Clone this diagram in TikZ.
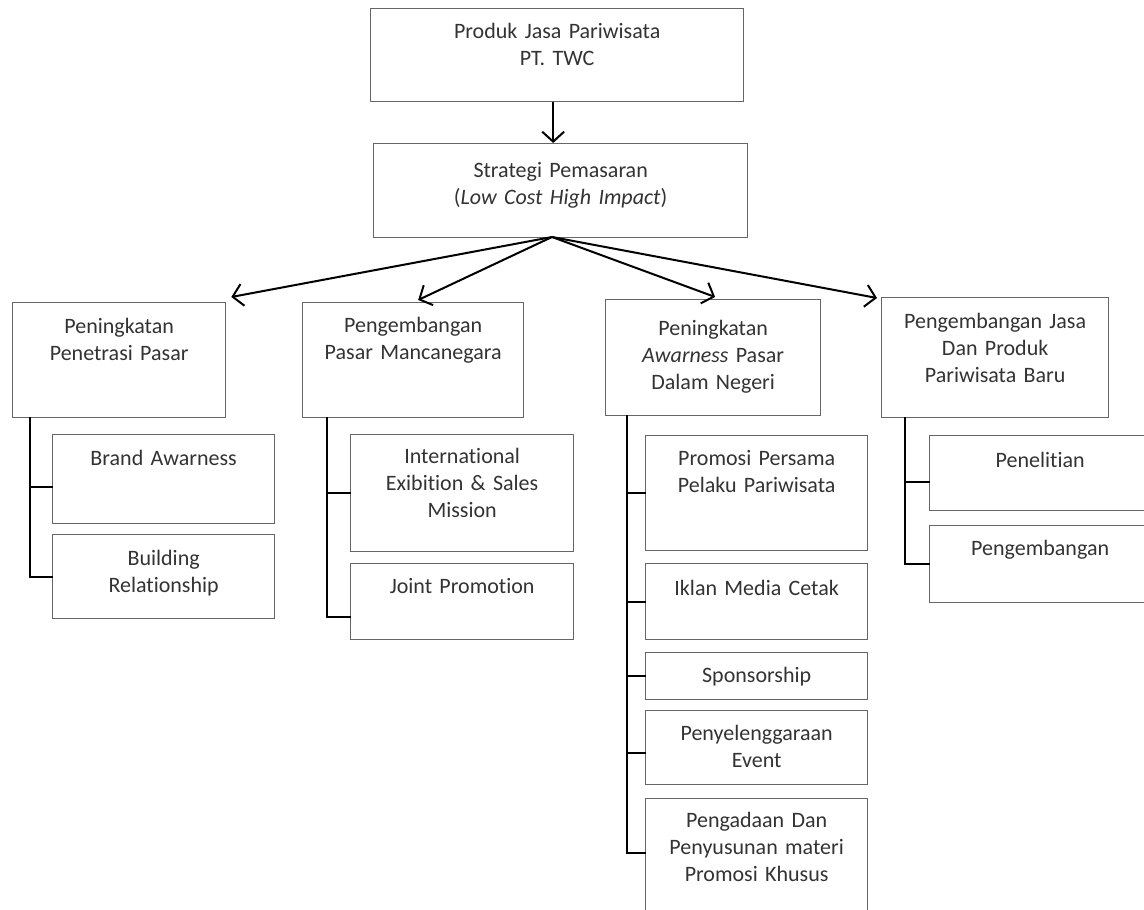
\documentclass[tikz,border=0pt]{standalone}
\usepackage{fontspec}
\setmainfont{Carlito}[Ligatures={NoCommon}]
\usetikzlibrary{arrows.meta,calc,positioning}
\tikzstyle{box} = [draw=black!60, line width=1.3pt, fill=white, inner sep=0pt, anchor=north west]
\tikzstyle{txt} = [anchor=base, align=center, inner sep=0pt, text=black!80]
\tikzstyle{arr} = [line width=2pt, -{Straight Barb[length=10pt,width=22pt,line width=2pt]}]
\tikzstyle{spine} = [line width=1.8pt, line cap=rect]
\tikzset{font={\fontsize{22}{27}\selectfont}}

\begin{document}
\begin{tikzpicture}[x=1pt, y=-1pt]
  \useasboundingbox (0,0) rectangle (1144,910);

  % top of the tree
  \node[box, minimum width=373pt, minimum height=93pt] (produk) at (370,8) {};
  \node[txt, text width=363pt] (produk-t) at ([yshift=-30pt]produk.north) {Produk Jasa Pariwisata\\PT. TWC};
  \node[box, minimum width=374pt, minimum height=94pt] (strategi) at (373,143) {};
  \node[txt, text width=364pt] (strategi-t) at ([yshift=-34pt]strategi.north) {Strategi Pemasaran\\(\textit{Low Cost High Impact})};
  \coordinate (hub) at (552,237);

  % second level
  \node[box, minimum width=213pt, minimum height=115pt] (penetrasi) at (12,302) {};
  \node[txt, text width=203pt] (penetrasi-t) at ([yshift=-31pt]penetrasi.north) {Peningkatan\\Penetrasi Pasar};
  \node[box, minimum width=221pt, minimum height=115pt] (manca) at (302,302) {};
  \node[txt, text width=211pt] (manca-t) at ([yshift=-30pt]manca.north) {Pengembangan\\Pasar Mancanegara};
  \node[box, minimum width=215pt, minimum height=116pt] (awar) at (605,299) {};
  \node[txt, text width=205pt] (awar-t) at ([yshift=-36pt]awar.north) {Peningkatan\\\textit{Awarness} Pasar\\Dalam Negeri};
  \node[box, minimum width=227pt, minimum height=120pt] (jasa) at (881,297) {};
  \node[txt, text width=217pt] (jasa-t) at ([yshift=-31pt]jasa.north) {Pengembangan Jasa\\Dan Produk\\Pariwisata Baru};

  \draw[arr] ([xshift=-4pt]produk.south) -- ([xshift=-4pt]produk.south |- strategi.north);
  \draw[arr] (hub) -- ([xshift=5pt,yshift=5pt]penetrasi.north east);
  \draw[arr] (hub) -- ([xshift=5pt,yshift=2pt]manca.north);
  \draw[arr] (hub) -- ([xshift=2pt,yshift=2pt]awar.north);
  \draw[arr] (hub) -- ([xshift=-4pt,yshift=-1pt]jasa.north west);

  % under Penetrasi Pasar
  \node[box, minimum width=222pt, minimum height=89pt] (brand) at (52,434) {};
  \node[txt, text width=212pt] (brand-t) at ([yshift=-31pt]brand.north) {Brand Awarness};
  \node[box, minimum width=222pt, minimum height=84pt] (relasi) at (52,534) {};
  \node[txt, text width=212pt] (relasi-t) at ([yshift=-31pt]relasi.north) {Building\\Relationship};
  \coordinate (bus-a) at ([xshift=18pt]penetrasi.south west);
  \draw[spine] (bus-a) |- (relasi.west);
  \draw[spine] ([yshift=-8pt]brand.west) -| (bus-a);

  % under Pasar Mancanegara
  \node[box, minimum width=223pt, minimum height=117pt] (pameran) at (350,434) {};
  \node[txt, text width=213pt] (pameran-t) at ([yshift=-29pt]pameran.north) {International\\Exibition \& Sales\\Mission};
  \node[box, minimum width=223pt, minimum height=76pt] (joint) at (350,563) {};
  \node[txt, text width=213pt] (joint-t) at ([yshift=-30pt]joint.north) {Joint Promotion};
  \coordinate (bus-b) at ([xshift=25pt]manca.south west);
  \draw[spine] (bus-b) |- ([yshift=-15pt]joint.west);
  \draw[spine] (pameran.west) -| (bus-b);

  % under Awarness Pasar Dalam Negeri
  \node[box, minimum width=222pt, minimum height=115pt] (persama) at (645,435) {};
  \node[txt, text width=212pt] (persama-t) at ([yshift=-30pt]persama.north) {Promosi Persama\\Pelaku Pariwisata};
  \node[box, minimum width=222pt, minimum height=76pt] (iklan) at (645,563) {};
  \node[txt, text width=212pt] (iklan-t) at ([yshift=-32pt]iklan.north) {Iklan Media Cetak};
  \node[box, minimum width=222pt, minimum height=47pt] (sponsor) at (645,652) {};
  \node[txt, text width=212pt] (sponsor-t) at ([yshift=-30pt]sponsor.north) {Sponsorship};
  \node[box, minimum width=222pt, minimum height=74pt] (event) at (645,710) {};
  \node[txt, text width=212pt] (event-t) at ([yshift=-30pt]event.north) {Penyelenggaraan\\Event};
  \node[box, minimum width=222pt, minimum height=120pt] (materi) at (645,798) {};
  \node[txt, text width=212pt] (materi-t) at ([yshift=-29pt]materi.north) {Pengadaan Dan\\Penyusunan materi\\Promosi Khusus};
  \coordinate (bus-c) at ([xshift=22pt]awar.south west);
  \draw[spine] (bus-c) |- ([yshift=6pt]materi.west);
  \draw[spine] (persama.west) -| (bus-c);
  \draw[spine] (iklan.west) -| (bus-c);
  \draw[spine] (sponsor.west) -| (bus-c);
  \draw[spine] ([yshift=-5pt]event.west) -| (bus-c);

  % under Jasa dan Produk Baru
  \node[box, minimum width=221pt, minimum height=75pt] (teliti) at (929,435) {};
  \node[txt, text width=211pt] (teliti-t) at ([yshift=-32pt]teliti.north) {Penelitian};
  \node[box, minimum width=221pt, minimum height=77pt] (kembang) at (929,525) {};
  \node[txt, text width=211pt] (kembang-t) at ([yshift=-30pt]kembang.north) {Pengembangan};
  \coordinate (bus-d) at ([xshift=24pt]jasa.south west);
  \draw[spine] (bus-d) |- (kembang.west);
  \draw[spine] ([yshift=-9pt]teliti.west) -| (bus-d);

\end{tikzpicture}
\end{document}
